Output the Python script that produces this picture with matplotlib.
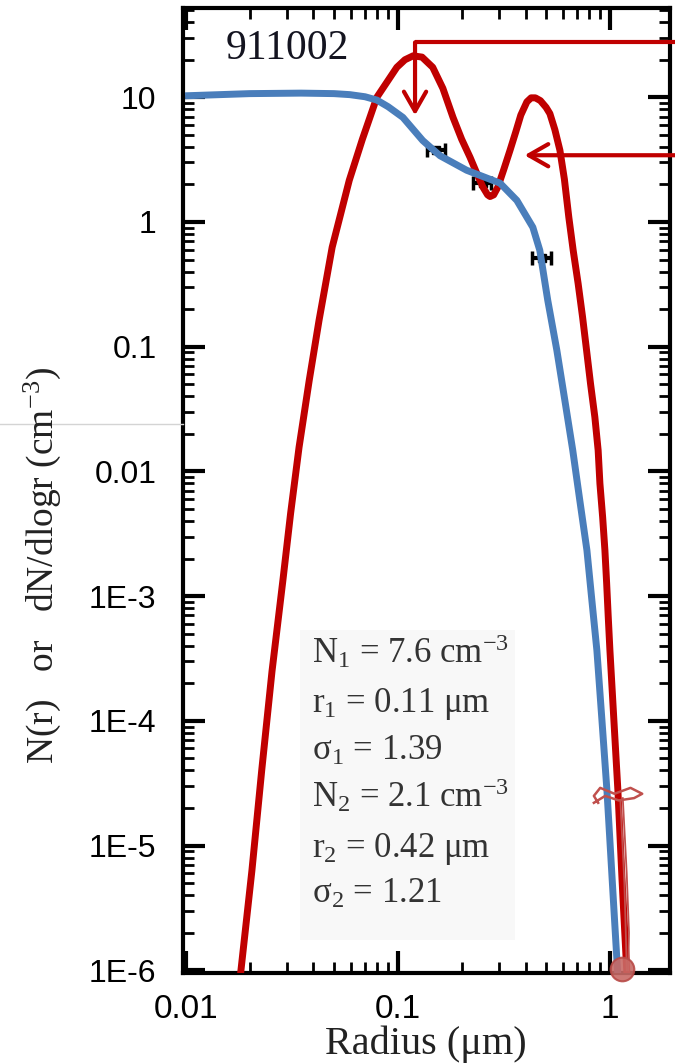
import matplotlib
matplotlib.use("Agg")
import matplotlib.pyplot as plt
from matplotlib.lines import Line2D
from matplotlib.patches import Rectangle

plt.rcParams['font.family'] = 'Liberation Sans'
plt.rcParams['mathtext.fontset'] = 'custom'
plt.rcParams['mathtext.rm'] = 'Liberation Serif'
plt.rcParams['mathtext.it'] = 'Liberation Serif:italic'

# bimodal lognormal fit (red) and retrieved size distribution (blue)
red_r = [0.0182, 0.0205, 0.0228, 0.0255, 0.0287, 0.0312, 0.0342, 0.0382, 0.0425,
         0.049, 0.059, 0.068, 0.0796, 0.0989, 0.108, 0.118, 0.13, 0.146, 0.163,
         0.182, 0.2, 0.219, 0.237, 0.252, 0.265, 0.272, 0.283, 0.296, 0.315,
         0.338, 0.36, 0.38, 0.406, 0.425, 0.445, 0.47, 0.5, 0.521, 0.55, 0.581,
         0.61, 0.64, 0.671, 0.708, 0.743, 0.776, 0.81, 0.849, 0.88, 0.897,
         0.924, 0.947, 0.965, 0.982, 1.0, 1.044, 1.09, 1.14, 1.2]
red_n = [1e-6, 6.3e-6, 4.0e-5, 2.5e-4, 1.34e-3, 4.6e-3, 0.0156, 0.0538, 0.163,
         0.627, 2.16, 4.6, 10.0, 17.4, 20.0, 21.5, 21.0, 17.4, 11.8,
         6.9, 4.6, 3.3, 2.4, 1.9, 1.65, 1.6, 1.65, 1.9, 2.6,
         3.76, 5.3, 7.2, 9.2, 9.9, 9.9, 9.4, 8.3, 7.4, 5.5, 3.76,
         2.2, 1.09, 0.593, 0.321, 0.173, 0.0935, 0.0506, 0.0273, 0.01475, 8.0e-3,
         4.3e-3, 2.33e-3, 1.27e-3, 6.8e-4, 3.67e-4, 1.01e-4, 2.8e-5, 5.4e-6, 1e-6]

blue_r = [0.0103, 0.02, 0.035, 0.05, 0.0594, 0.07, 0.0796, 0.09, 0.1056, 0.131,
          0.158, 0.211, 0.303, 0.364, 0.433, 0.467, 0.509, 0.562, 0.613, 0.668,
          0.721, 0.779, 0.822, 0.868, 0.917, 0.968, 1.022, 1.079, 1.09]
blue_n = [10.3, 10.7, 10.8, 10.7, 10.5, 10.1, 9.5, 8.4, 6.9, 4.5,
          3.4, 2.6, 2.05, 1.49, 0.907, 0.593, 0.236, 0.0935, 0.0371, 0.01475,
          5.86e-3, 2.33e-3, 9.25e-4, 3.67e-4, 1.01e-4, 2.77e-5, 5.77e-6, 1.2e-6,
          9.0e-7]

# measured points
pts_r = [0.152, 0.251, 0.477]
pts_n = [3.76, 2.04, 0.51]

xticks = [0.01, 0.1, 1]
xtick_labels = ['0.01', '0.1', '1']
yticks = [1e-6, 1e-5, 1e-4, 1e-3, 0.01, 0.1, 1, 10]
ytick_labels = ['1E-6', '1E-5', '1E-4', '1E-3', '0.01', '0.1', '1', '10']

fit_lines = ['N$_{\\mathrm{1}}$ = 7.6 cm$^{\\mathrm{-3}}$',
             'r$_{\\mathrm{1}}$ = 0.11 \u03bcm',
             '\u03c3$_{\\mathrm{1}}$ = 1.39',
             'N$_{\\mathrm{2}}$ = 2.1 cm$^{\\mathrm{-3}}$',
             'r$_{\\mathrm{2}}$ = 0.42 \u03bcm',
             '\u03c3$_{\\mathrm{2}}$ = 1.21']

RED = '#c00000'
BLUE = '#4a7ebb'
PEN = '#c0504d'
W, H = 675, 1064

fig = plt.figure(figsize=(W / 100, H / 100), dpi=100)
ax = fig.add_axes([183 / W, 1 - 973 / H, (670 - 183) / W, (973 - 8) / H])
ax.set_xscale('log')
ax.set_yscale('log')
ax.set_xlim(0.0097, 1.92)
ax.set_ylim(0.95e-6, 52)

ax.plot(red_r, red_n, color=RED, lw=5, solid_joinstyle='round', zorder=3)
ax.plot(blue_r, blue_n, color=BLUE, lw=5, solid_joinstyle='round', zorder=4)
ax.errorbar(pts_r, pts_n, xerr=[[r * 0.1 for r in pts_r], [r * 0.1 for r in pts_r]],
            fmt='s', color='black', ms=6, elinewidth=3, capsize=5, capthick=2.5,
            zorder=2)

for s in ax.spines.values():
    s.set_linewidth(3)
ax.tick_params(which='both', direction='in', top=True, right=True)
ax.tick_params(which='major', length=16, width=3)
ax.tick_params(which='minor', length=8, width=2)
ax.tick_params(axis='y', which='major', pad=19, labelsize=23)
ax.tick_params(axis='x', which='major', pad=15, labelsize=24)
ax.set_xticks(xticks)
ax.set_xticklabels(xtick_labels)
ax.set_yticks(yticks)
ax.set_yticklabels(ytick_labels)

# arrows pointing at the two modes
arrow = dict(arrowstyle='->,head_length=0.7,head_width=0.4', color=RED, lw=3,
             shrinkA=0, shrinkB=0, mutation_scale=20)
ax.plot([2.03, 0.1205], [27.6, 27.6], color=RED, lw=3, clip_on=False,
        solid_capstyle='butt', zorder=5)
ax.annotate('', xy=(0.1205, 7.17), xytext=(0.1205, 27.6), arrowprops=arrow,
            zorder=5)
ax.annotate('', xy=(0.396, 3.43), xytext=(2.03, 3.43), annotation_clip=False,
            arrowprops=arrow, zorder=5)

# pen marks near the large-radius cut-off
ax.plot([0.84, 0.95, 1.1, 1.3, 1.42, 1.25, 1.05, 0.9, 0.84, 0.88],
        [2.2e-5, 2.5e-5, 2.3e-5, 2.4e-5, 2.6e-5, 2.9e-5, 2.6e-5, 2.9e-5, 2.5e-5, 2.2e-5],
        color=PEN, lw=1.8, clip_on=False, zorder=6)
ax.plot([1.12, 1.17, 1.19, 1.2], [2.3e-5, 5e-6, 1.8e-6, 1.0e-6],
        color=PEN, lw=1.3, zorder=6)
ax.plot([1.15, 1.2, 1.23, 1.22], [2.4e-5, 6e-6, 2e-6, 1.0e-6],
        color=PEN, lw=1.3, zorder=6)
ax.plot([1.14], [1.03e-6], 'o', ms=17, mfc='#c86a66', mec='#b84a47', mew=1.5,
        alpha=0.9, clip_on=False, zorder=7)

fig.text(287 / W, 1 - 49 / H, '911002', family='Liberation Serif', fontsize=30,
         color='#141420', ha='center', va='center')

# fit parameters
fig.add_artist(Rectangle((300 / W, 1 - 940 / H), 215 / W, 310 / H,
                         transform=fig.transFigure, facecolor='#f8f8f8',
                         edgecolor='none', zorder=1))
baselines = [663, 712, 760, 807, 857, 903]
for txt, yb in zip(fit_lines, baselines):
    fig.text(312 / W, 1 - yb / H, txt, family='Liberation Serif', fontsize=25,
             color='#333333', ha='left', va='baseline', zorder=8)

fig.text(42 / W, 1 - 565 / H, 'N(r)   or   dN/dlogr (cm$^{\\mathrm{-3}}$)',
         family='Liberation Serif', fontsize=27, color='#222222', rotation=90,
         ha='center', va='center')
fig.text(426 / W, 1 - 1044 / H, 'Radius (\u03bcm)', family='Liberation Serif',
         fontsize=29, color='#222222', ha='center', va='center')

fig.add_artist(Line2D([0, 183 / W], [1 - 424 / H, 1 - 424 / H], color='#d4d4d4',
                      lw=1, transform=fig.transFigure))

fig.savefig('out.png', dpi=100)
